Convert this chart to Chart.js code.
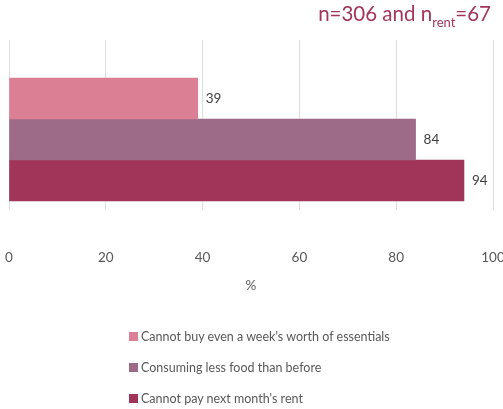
<!DOCTYPE html>
<html>
<head>
<meta charset="utf-8">
<script src="https://cdn.jsdelivr.net/npm/chart.js@4/dist/chart.umd.min.js"></script>
<style>
  html, body { margin: 0; padding: 0; background: #fff; }
  #wrap { position: relative; width: 503px; height: 409px; font-family: Lato, "Open Sans", sans-serif; }
  #title { position: absolute; right: 12px; top: 1px; font-size: 20.5px; color: #a3355c; white-space: nowrap; }
  #title sub { font-size: 13px; vertical-align: -6px; }
  #legend { position: absolute; left: 129px; top: 321px; font-size: 12.5px; color: #595959; }
  #legend .item { display: flex; align-items: center; height: 31px; }
  #legend .box { width: 9px; height: 9px; margin-right: 3px; }
</style>
</head>
<body>
<div id="wrap">
  <canvas id="chart" width="503" height="409"></canvas>
  <div id="title">n=306 and n<sub>rent</sub>=67</div>
  <div id="legend"></div>
</div>
<script>
const categories = [""]
const seriesNames = [
  "Cannot buy even a week's worth of essentials",
  "Consuming less food than before",
  "Cannot pay next month's rent"
]
const seriesValues = [[39], [84], [94]]
const seriesColors = ["#db8094", "#9d6b87", "#a13459"]
const xTicks = [0, 20, 40, 60, 80, 100]

const gridColor = "#dedede"
const font = { family: "Lato, 'Open Sans', sans-serif", size: 13.5 }

const valueLabels = {
  id: "valueLabels",
  afterDatasetsDraw(chart) {
    const ctx = chart.ctx
    ctx.save()
    ctx.font = "13.5px " + font.family
    ctx.fillStyle = "#404040"
    ctx.textBaseline = "middle"
    chart.data.datasets.forEach((ds, i) => {
      chart.getDatasetMeta(i).data.forEach((bar, j) => {
        ctx.fillText(String(ds.data[j]), bar.x + 8, bar.y)
      })
    })
    ctx.restore()
  }
}

const chart = new Chart(document.getElementById("chart"), {
  type: "bar",
  data: {
    labels: categories,
    datasets: seriesNames.map((name, i) => ({
      label: name,
      data: seriesValues[i],
      backgroundColor: seriesColors[i],
      barThickness: 41
    }))
  },
  options: {
    indexAxis: "y",
    responsive: false,
    animation: false,
    layout: { padding: { left: 9, right: 10, top: 40, bottom: 111 } },
    plugins: { legend: { display: false }, tooltip: { enabled: false } },
    scales: {
      x: {
        min: 0, max: 100,
        afterFit: (s) => { s.paddingLeft = 0; s.paddingRight = 0; s.height = 88 },
        afterBuildTicks: (s) => { s.ticks = xTicks.map(v => ({ value: v })) },
        grid: { color: gridColor, drawTicks: false },
        border: { display: false },
        ticks: { color: "#595959", font, padding: 40 },
        title: { display: true, text: "%", color: "#595959", font }
      },
      x2: {
        position: "top",
        min: 0, max: 100,
        afterFit: (s) => { s.paddingLeft = 0; s.paddingRight = 0; s.height = 29 },
        afterBuildTicks: (s) => { s.ticks = xTicks.map(v => ({ value: v })) },
        grid: { color: gridColor, drawOnChartArea: false, drawTicks: true, tickLength: 29 },
        border: { display: false },
        ticks: { display: false }
      },
      y: { display: false }
    }
  },
  plugins: [valueLabels]
})

const legend = document.getElementById("legend")
chart.data.datasets.forEach((ds) => {
  const item = document.createElement("div")
  item.className = "item"
  item.innerHTML = '<span class="box" style="background:' + ds.backgroundColor + '"></span><span>' + ds.label + '</span>'
  legend.appendChild(item)
})
</script>
</body>
</html>
